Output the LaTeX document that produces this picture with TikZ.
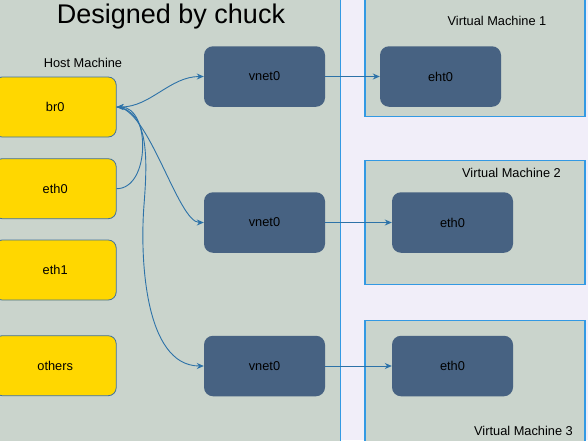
\documentclass[tikz,border=0pt]{standalone}
\usepackage{fontspec}
\setmainfont{Liberation Sans}
\usetikzlibrary{arrows.meta}
\definecolor{bggray}{HTML}{CAD4CC}
\definecolor{lav}{HTML}{F1EEF9}
\definecolor{vmblue}{HTML}{3399E3}
\definecolor{linkblue}{HTML}{2D72A8}
\definecolor{darkbox}{HTML}{476282}
\definecolor{gold}{HTML}{FFD700}
\definecolor{goldline}{HTML}{41719C}
\tikzset{
  hostbox/.style={draw=goldline, line width=0.8pt, fill=gold, rounded corners=8pt,
    minimum width=122pt, minimum height=60pt, inner sep=0pt, font=\fontsize{12.8}{14}\selectfont},
  netbox/.style={fill=darkbox, rounded corners=9pt, minimum width=121pt, minimum height=60.5pt,
    inner sep=0pt, font=\fontsize{12.8}{14}\selectfont},
  vmbox/.style={draw=vmblue, line width=1.1pt, fill=bggray},
  lbl/.style={font=\fontsize{12.8}{14}\selectfont, inner sep=0pt},
  link/.style={draw=linkblue, line width=0.9pt},
  tip/.style={-{Stealth[length=7pt,width=6pt]}},
}
\begin{document}
\begin{tikzpicture}[x=1pt,y=-1pt]
\useasboundingbox (0,0) rectangle (588,440);
% backgrounds
\fill[lav] (0,0) rectangle (588,440);
\fill[bggray] (0,-5) rectangle (340.5,445);
\draw[vmblue, line width=1.1pt] (340.5,-5) -- (340.5,445);
% VM containers
\draw[vmbox] (365,-5) rectangle (585,116.3);
\draw[vmbox] (365,160.7) rectangle (585,284.3);
\draw[vmbox] (365,320.3) rectangle (585,445);
\node[lbl] (vm1l) at (497,21) {Virtual Machine 1};
\node[lbl] (vm2l) at (511.5,173) {Virtual Machine 2};
\node[lbl] (vm3l) at (523.5,431) {Virtual Machine 3};
% title
\node[font=\fontsize{27}{30}\selectfont, inner sep=0pt] (title) at (171,17) {Designed by chuck};
\node[lbl] (hostl) at (83,63.3) {Host Machine};
% host boxes
\node[hostbox] (br0) at (55.2,107) {br0};
\node[hostbox] (eth0h) at (55.2,188.7) {eth0};
\node[hostbox] (eth1) at (55.2,270) {eth1};
\node[hostbox] (others) at (55.2,365.7) {others};
% vnet boxes
\node[netbox] (v1) at (264.5,76.5) {vnet0};
\node[netbox] (v2) at (264.5,222.5) {vnet0};
\node[netbox] (v3) at (264.5,366) {vnet0};
% vm nics
\node[netbox] (g1) at (440.5,76.5) {eht0};
\node[netbox] (g2) at (452.5,222.5) {eth0};
\node[netbox] (g3) at (452.5,366) {eth0};
% links
\draw[link, {Stealth[length=7pt,width=6pt]}-{Stealth[length=7pt,width=6pt]}]
  (br0.east) .. controls +(34,0) and +(-34,0) .. (v1.west);
\draw[link, tip] (br0.east) .. controls +(32,0) and +(-26,0) .. (v2.west);
\draw[link, tip] (br0.east) .. controls +(34,3) and +(3,-40) .. (144,205)
  .. controls +(-4,50) and +(-60,0) .. (v3.west);
\draw[link, tip] (eth0h.east) .. controls +(34,0) and +(34,0) .. (br0.east);
\draw[link, tip] (v1.east) -- (g1.west);
\draw[link, tip] (v2.east) -- (g2.west);
\draw[link, tip] (v3.east) -- (g3.west);
\end{tikzpicture}
\end{document}
